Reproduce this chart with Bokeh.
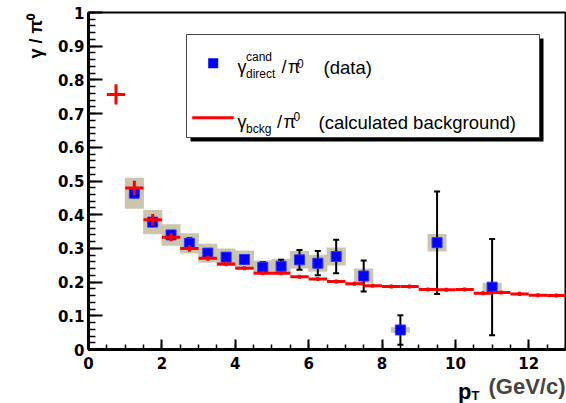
from bokeh.plotting import figure
from bokeh.models import (Range1d, SingleIntervalTicker, CustomJSTickFormatter,
                          ColumnDataSource, Label, BoxAnnotation)
from bokeh.embed import file_html
from bokeh.resources import INLINE

# ---------------- data ----------------
pt_data = [1.25, 1.75, 2.25, 2.75, 3.25, 3.75, 4.25, 4.75, 5.25, 5.75, 6.25, 6.75, 7.5, 8.5, 9.5, 11.0]
ratio_data = [0.464, 0.378, 0.340, 0.315, 0.286, 0.274, 0.267, 0.244, 0.247, 0.266, 0.256, 0.276, 0.218, 0.058, 0.317, 0.185]
stat_err = [0.012, 0.010, 0.010, 0.015, 0.012, 0.012, 0.013, 0.015, 0.019, 0.029, 0.036, 0.050, 0.046, 0.044, 0.152, 0.143]
sys_err = [0.046, 0.036, 0.032, 0.030, 0.028, 0.026, 0.027, 0.020, 0.022, 0.026, 0.025, 0.027, 0.022, 0.008, 0.026, 0.013]

pt_bkg = [0.75, 1.25, 1.75, 2.25, 2.75, 3.25, 3.75, 4.25, 4.75, 5.25, 5.75, 6.25, 6.75, 7.25, 7.75,
          8.25, 8.75, 9.25, 9.75, 10.25, 10.75, 11.25, 11.75, 12.25, 12.75]
ratio_bkg = [0.757, 0.479, 0.385, 0.333, 0.300, 0.271, 0.254, 0.241, 0.226, 0.226, 0.216, 0.209, 0.202, 0.195, 0.189,
             0.187, 0.187, 0.178, 0.177, 0.178, 0.167, 0.169, 0.165, 0.161, 0.160]
bkg_err = [0.030, 0.022, 0.017, 0.012, 0.010, 0.008, 0.007, 0.006, 0.006, 0.006, 0.006, 0.006, 0.006, 0.006, 0.006,
           0.006, 0.006, 0.006, 0.006, 0.006, 0.006, 0.006, 0.006, 0.006, 0.006]

x_ticks_interval = 2
y_ticks_interval = 0.1

# ---------------- styles ----------------
BOX_HALF = 0.26
BIN_HALF = 0.25
GRAY = "#cbc5ad"
RED = "#ff0000"
BLUE = "#0000ff"
LF = "Liberation Sans"

d_src = ColumnDataSource(dict(
    x=pt_data, y=ratio_data,
    left=[x - BOX_HALF for x in pt_data], right=[x + BOX_HALF for x in pt_data],
    sb=[y - s for y, s in zip(ratio_data, sys_err)], st=[y + s for y, s in zip(ratio_data, sys_err)],
    lo=[y - e for y, e in zip(ratio_data, stat_err)], hi=[y + e for y, e in zip(ratio_data, stat_err)],
))
b_src = ColumnDataSource(dict(
    x=pt_bkg, y=ratio_bkg,
    x0=[x - BIN_HALF for x in pt_bkg], x1=[x + BIN_HALF for x in pt_bkg],
    lo=[y - e for y, e in zip(ratio_bkg, bkg_err)], hi=[y + e for y, e in zip(ratio_bkg, bkg_err)],
))

p = figure(width=566, height=403, output_backend="svg", toolbar_location=None,
           x_range=Range1d(0, 13), y_range=Range1d(0, 1),
           min_border_left=88, min_border_right=1, min_border_top=12, min_border_bottom=54)
p.xgrid.visible = False
p.ygrid.visible = False
p.outline_line_color = "black"
p.outline_line_width = 2
p.background_fill_color = "white"
p.border_fill_color = "white"

xa = p.xaxis[0]
ya = p.yaxis[0]
xa.ticker = SingleIntervalTicker(interval=x_ticks_interval, num_minor_ticks=4)
ya.ticker = SingleIntervalTicker(interval=y_ticks_interval, num_minor_ticks=5)
ya.formatter = CustomJSTickFormatter(code="return tick.toFixed(1).replace(/\\.0$/, '');")
for ax in (xa, ya):
    ax.axis_line_width = 3
    ax.axis_line_color = "black"
    ax.major_tick_out = 0
    ax.minor_tick_out = 0
    ax.major_tick_line_color = "black"
    ax.minor_tick_line_color = "black"
    ax.major_tick_line_width = 2
    ax.minor_tick_line_width = 1.5
    ax.major_label_text_font = "DejaVu Sans"
    ax.major_label_text_font_style = "bold"
    ax.major_label_text_font_size = "15px"
    ax.major_label_text_color = "black"
ya.major_tick_in = 14
ya.minor_tick_in = 7
ya.major_label_standoff = 4
xa.major_tick_in = 10
xa.minor_tick_in = 5
xa.major_label_standoff = 7

# x axis title (main part) as a right-aligned title below the plot
p.title.text = "(GeV/c)"
p.title_location = "below"
p.title.align = "right"
p.title.text_font = LF
p.title.text_font_style = "bold"
p.title.text_font_size = "22px"
p.title.standoff = 0
p.title.offset = 0

# systematic boxes
p.quad(left="left", right="right", bottom="sb", top="st", source=d_src,
       fill_color=GRAY, line_color=None)
# statistical error bars
p.segment(x0="x", x1="x", y0="lo", y1="hi", source=d_src, line_color="black", line_width=2)
p.scatter(x="x", y="hi", source=d_src, marker="dash", size=6, line_color="black", line_width=2)
p.scatter(x="x", y="lo", source=d_src, marker="dash", size=6, line_color="black", line_width=2)
# data points
p.scatter(x="x", y="y", source=d_src, marker="square", size=10, fill_color=BLUE,
          line_color="#3030ff", line_width=1)
# calculated background
p.segment(x0="x0", x1="x1", y0="y", y1="y", source=b_src, line_color=RED, line_width=3)
p.segment(x0="x", x1="x", y0="lo", y1="hi", source=b_src, line_color=RED, line_width=3)


# --------- annotations (positions in canvas pixels) ---------
def rx(px):
    return (px - 88.0) / 477.0 * 13.0


def ry(py):
    return (349.0 - py) / 337.0


# legend box with shadow
p.add_layout(BoxAnnotation(left=rx(190), right=rx(543), top=ry(38), bottom=ry(141),
                           fill_color="black", fill_alpha=1, line_color=None))
p.add_layout(BoxAnnotation(left=rx(186), right=rx(539), top=ry(34), bottom=ry(137),
                           fill_color="white", fill_alpha=1, line_color="#444444", line_alpha=1, line_width=1))
# legend keys
p.add_layout(BoxAnnotation(left=rx(207.7), right=rx(217.7), top=ry(57.7), bottom=ry(67.7),
                           fill_color=BLUE, fill_alpha=1, line_color=None))
p.add_layout(BoxAnnotation(left=rx(191.7), right=rx(233.3), top=ry(115.8), bottom=ry(118.8),
                           fill_color=RED, fill_alpha=1, line_color=None))


def lab(px, py, text, size, style="normal", align="left"):
    p.add_layout(Label(x=rx(px), y=ry(py), text=text, text_font=LF, text_font_size=f"{size}px",
                       text_font_style=style, text_align=align, text_baseline="alphabetic",
                       text_color="black"))


def side_lab(side, px, py, text, size, style="bold", align="left", angle=0.0):
    p.add_layout(Label(x=px, y=py, x_units="canvas", y_units="canvas", text=text, text_font=LF,
                       text_font_size=f"{size}px", text_font_style=style, text_align=align,
                       text_baseline="alphabetic", angle=angle, text_color="black"), side)


# legend row 1
lab(237, 66.5, "γ", 18)
lab(245.5, 56.5, "cand", 12)
lab(245.5, 73.3, "direct", 12)
lab(281, 66.5, "/", 18)
lab(287.5, 66.5, "π", 18)
lab(296.5, 63.3, "0", 12)
lab(323, 66.5, "(data)", 18.5)
# legend row 2
lab(237, 121.7, "γ", 18)
lab(245.5, 128, "bckg", 12)
lab(276.5, 121.7, "/", 18)
lab(283, 121.7, "π", 18)
lab(293, 115.7, "0", 12)
lab(318, 121.7, "(calculated background)", 18.5)

# y axis title and x axis title subscript part
side_lab("left", 35, 58, "γ / π\u2070", 18, angle=1.5707963267948966)
side_lab("left", 471, 391, "p", 22, align="right")
side_lab("left", 471, 395, "T", 13)

open("out.html", "w").write(file_html(p, INLINE))
